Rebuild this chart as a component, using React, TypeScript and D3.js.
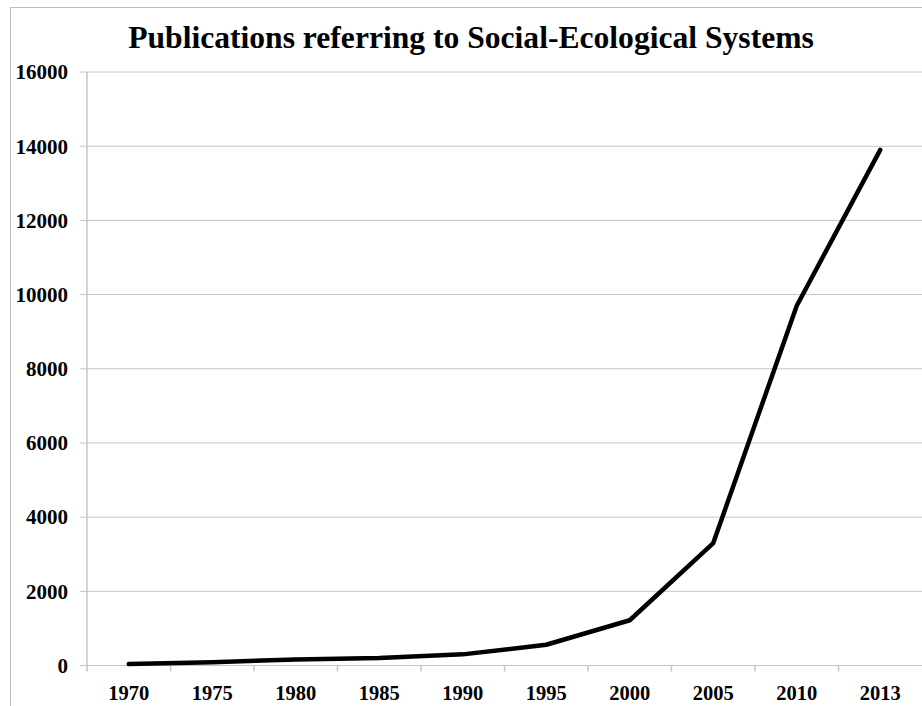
import * as d3 from 'd3';
import { FC } from 'react';

const years = ['1970', '1975', '1980', '1985', '1990', '1995', '2000', '2005', '2010', '2013'];
const publications = [40, 90, 160, 200, 300, 560, 1220, 3300, 9700, 13900];
const yTicks = [0, 2000, 4000, 6000, 8000, 10000, 12000, 14000, 16000];

const title = 'Publications referring to Social-Ecological Systems';
const font = '"Liberation Serif", "Times New Roman", serif';

const App: FC = () => {
  const width = 922;
  const height = 706;
  const margin = { top: 72, right: 0, bottom: 40.5, left: 87 };

  const x = d3
    .scaleBand<string>()
    .domain(years)
    .range([margin.left, width - margin.right]);

  const y = d3
    .scaleLinear()
    .domain([0, 16000])
    .range([height - margin.bottom, margin.top]);

  const line = d3
    .line<number>()
    .x((_, i) => x(years[i])! + x.bandwidth() / 2)
    .y((d) => y(d));

  const grid = '#c4c4c4';
  const y0 = y(0);

  return (
    <svg
      width={width}
      height={height}
      style={{ position: 'absolute', left: 0, top: 0, background: '#fff' }}
    >
      {/* chart frame */}
      <rect x={10.5} y={7.5} width={930} height={720} fill="none" stroke="#bbb" strokeWidth={1} />

      <text
        x={471}
        y={48}
        textAnchor="middle"
        fontFamily={font}
        fontWeight="bold"
        fontSize={31.6}
      >
        {title}
      </text>

      {yTicks.map((t) => (
        <g key={t}>
          <line x1={margin.left - 7} x2={width} y1={y(t)} y2={y(t)} stroke={grid} strokeWidth={1} />
          <text
            x={68}
            y={y(t)}
            dy="0.35em"
            textAnchor="end"
            fontFamily={font}
            fontWeight="bold"
            fontSize={21}
          >
            {t}
          </text>
        </g>
      ))}

      <line x1={margin.left} x2={margin.left} y1={margin.top} y2={y0} stroke={grid} strokeWidth={1.5} />

      {years.map((yr) => (
        <g key={yr}>
          <line x1={x(yr)!} x2={x(yr)!} y1={y0} y2={y0 + 6} stroke={grid} strokeWidth={1.5} />
          <text
            x={x(yr)! + x.bandwidth() / 2}
            y={700}
            textAnchor="middle"
            fontFamily={font}
            fontWeight="bold"
            fontSize={20.5}
          >
            {yr}
          </text>
        </g>
      ))}

      <path
        d={line(publications)!}
        fill="none"
        stroke="#000"
        strokeWidth={4.5}
        strokeLinejoin="round"
        strokeLinecap="round"
      />
    </svg>
  );
};

export default App;
